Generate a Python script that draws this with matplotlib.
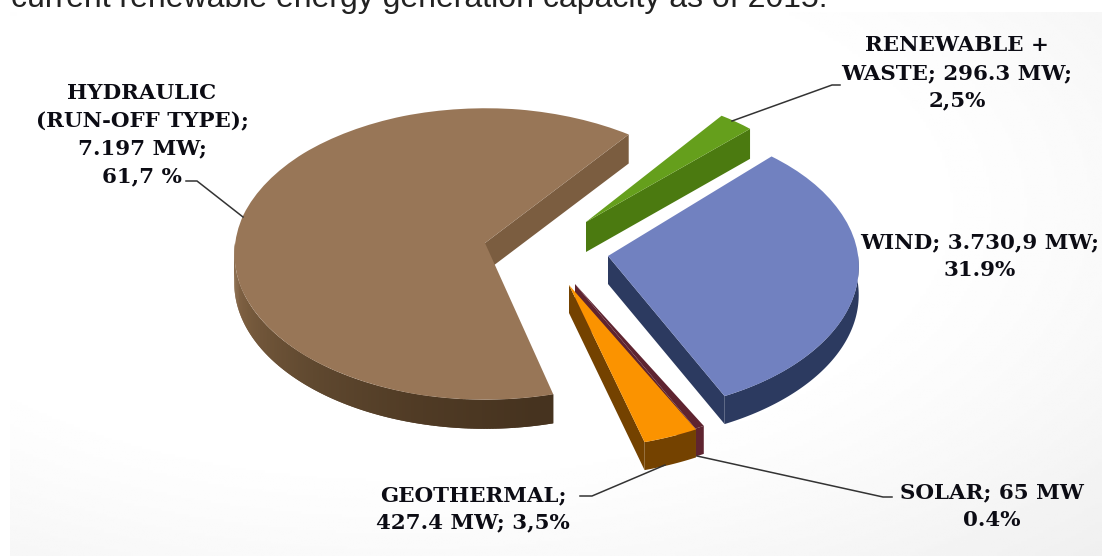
import numpy as np
import matplotlib
matplotlib.use("Agg")
import matplotlib.pyplot as plt
from matplotlib.transforms import Transform
from matplotlib.colors import to_rgb

sources = ["HYDRAULIC", "GEOTHERMAL", "SOLAR", "WIND", "RENEWABLE + WASTE"]
capacity_mw = [7197, 427.4, 65, 3730.9, 296.3]
top_colors = ["#987657", "#fb9300", "#5f2430", "#7181c0", "#659f1c"]
wall_colors = ["#7b5d40", "#744200", "#5f2430", "#2c3a60", "#4b7a10"]
hydraulic_rim = ["#8f6e4e", "#75593c", "#5f482f", "#503b25", "#46331f"]

label_texts = [
    "HYDRAULIC\n(RUN-OFF TYPE);\n7.197 MW;\n61,7 %",
    "RENEWABLE +\nWASTE; 296.3 MW;\n2,5%",
    "WIND; 3.730,9 MW;\n31.9%",
    "SOLAR; 65 MW\n0.4%",
    "GEOTHERMAL;\n427.4 MW; 3,5%",
]
label_pos = [(142, 135), (957, 73), (980, 256), (992, 506), (473, 509)]
leaders = [
    ([186, 197, 243], [181, 181, 217]),
    ([732, 832, 840], [121, 85, 85]),
    ([580, 592, 665], [496, 496, 465]),
    ([697, 883, 892], [456, 497, 497]),
]
caption = "current renewable energy generation capacity as of 2015:"

W, H = 1102, 556
RX, RY, K = 250.0, 145.0, 0.0753
# apex x, apex y, radius factor, rotation, angular stretch, drawing depth, drawing order
placement = [
    (485, 243, 1.00, -2.0, 1.05, 29, 2),
    (569, 285, 1.04, 3.6, 0.87, 28, 4),
    (575, 284, 1.03, 1.5, 1.0, 28, 3),
    (608, 256, 1.00, -2.5, 0.965, 28, 5),
    (586, 222, 0.965, -6.5, 1.0, 30, 6),
]


class View(Transform):
    input_dims = 2
    output_dims = 2
    is_separable = False
    has_inverse = False

    def __init__(self, cx, cy, scale, rot, stretch, mid):
        super().__init__()
        self.cx, self.cy, self.scale = cx, cy, scale
        self.rot, self.stretch, self.mid = rot, stretch, mid

    def transform_non_affine(self, values):
        xy = np.asarray(values, dtype=float)
        r = np.hypot(xy[:, 0], xy[:, 1]) * self.scale
        th = np.rad2deg(np.arctan2(xy[:, 1], xy[:, 0]))
        d = (th - self.mid + 180) % 360 - 180
        a = np.deg2rad(self.mid + d * self.stretch + self.rot)
        u, v = r * np.cos(a), r * np.sin(a)
        f = 1.0 / (1.0 + K * v)
        return np.column_stack([self.cx + RX * u * f, self.cy - RY * v * f])


fig = plt.figure(figsize=(W / 100, H / 100), dpi=100, facecolor="white")
ax = fig.add_axes([0, 0, 1, 1])

# faint paper shading of the pasted picture
yy, xx = np.mgrid[0:1:200j, 0:1:400j]
shade = 1 - 0.05 * np.clip(np.hypot((xx - 0.36) / 0.64, (yy - 0.36) / 0.64) - 0.72, 0, 1) ** 1.2 * 1.9
ax.imshow(shade, cmap="gray", vmin=0, vmax=1, extent=(10, W, H, 12), aspect="auto", zorder=0)

wedges, _ = ax.pie(capacity_mw, colors=top_colors, startangle=60,
                   wedgeprops=dict(linewidth=0))

for i, w in enumerate(wedges):
    cx, cy, scale, rot, stretch, depth, order = placement[i]
    t1, t2 = w.theta1, w.theta2
    mid0 = (t1 + t2) / 2
    view = View(cx, cy, scale, rot, stretch, (mid0 + 180) % 360 - 180)
    w.set_transform(view + ax.transData)
    w.set_zorder(order + 0.5)
    s1 = mid0 + rot - (t2 - t1) * stretch / 2
    s2 = mid0 + rot + (t2 - t1) * stretch / 2

    def pts(theta):
        a = np.deg2rad(theta)
        u, v = scale * np.cos(a), scale * np.sin(a)
        f = 1.0 / (1.0 + K * v)
        return np.column_stack([cx + RX * u * f, cy - RY * v * f])

    def face(p, q, col):
        xs = [p[0], q[0], q[0], p[0]]
        ys = [p[1], q[1], q[1] + depth, p[1] + depth]
        ax.fill(xs, ys, color=col, lw=0, zorder=order)

    # radial wall seen from the front
    if np.sin(np.deg2rad(s1 - 90)) < 0:
        face((cx, cy), pts(np.array([s1]))[0], wall_colors[i])
    # rim
    th = np.linspace(s1, s2, int((s2 - s1) * 1.5) + 3)
    th = th[np.sin(np.deg2rad(th)) < 0.02]
    if len(th) > 1:
        p = pts(th)
        if i == 0:
            for j in range(len(th) - 1):
                f = np.clip((th[j] % 360 - 180) / 100, 0, 1) * (len(hydraulic_rim) - 1)
                a = int(min(f, len(hydraulic_rim) - 2))
                col = tuple((1 - (f - a)) * np.array(to_rgb(hydraulic_rim[a]))
                            + (f - a) * np.array(to_rgb(hydraulic_rim[a + 1])))
                face(p[j], p[min(j + 2, len(th) - 1)], col)
        else:
            ax.fill(np.r_[p[:, 0], p[::-1, 0]], np.r_[p[:, 1], p[::-1, 1] + depth],
                    color=wall_colors[i], lw=0, zorder=order)

for (x, y), s in zip(label_pos, label_texts):
    ax.text(x, y, s, ha="center", va="center", family="DejaVu Serif",
            weight="bold", fontsize=15.4, linespacing=1.48, color="#0c0c14", zorder=10)

for xs, ys in leaders:
    ax.plot(xs, ys, color="#333333", lw=1.1, zorder=9, solid_joinstyle="miter")

ax.text(11, 6.5, caption, ha="left", va="baseline", family="Liberation Sans",
        fontsize=23.0, color="#222222", zorder=10, clip_on=False)

ax.set_xlim(0, W)
ax.set_ylim(H, 0)
ax.set_aspect("auto")
ax.set_axis_off()
fig.savefig("out.png", dpi=100, facecolor="white")
